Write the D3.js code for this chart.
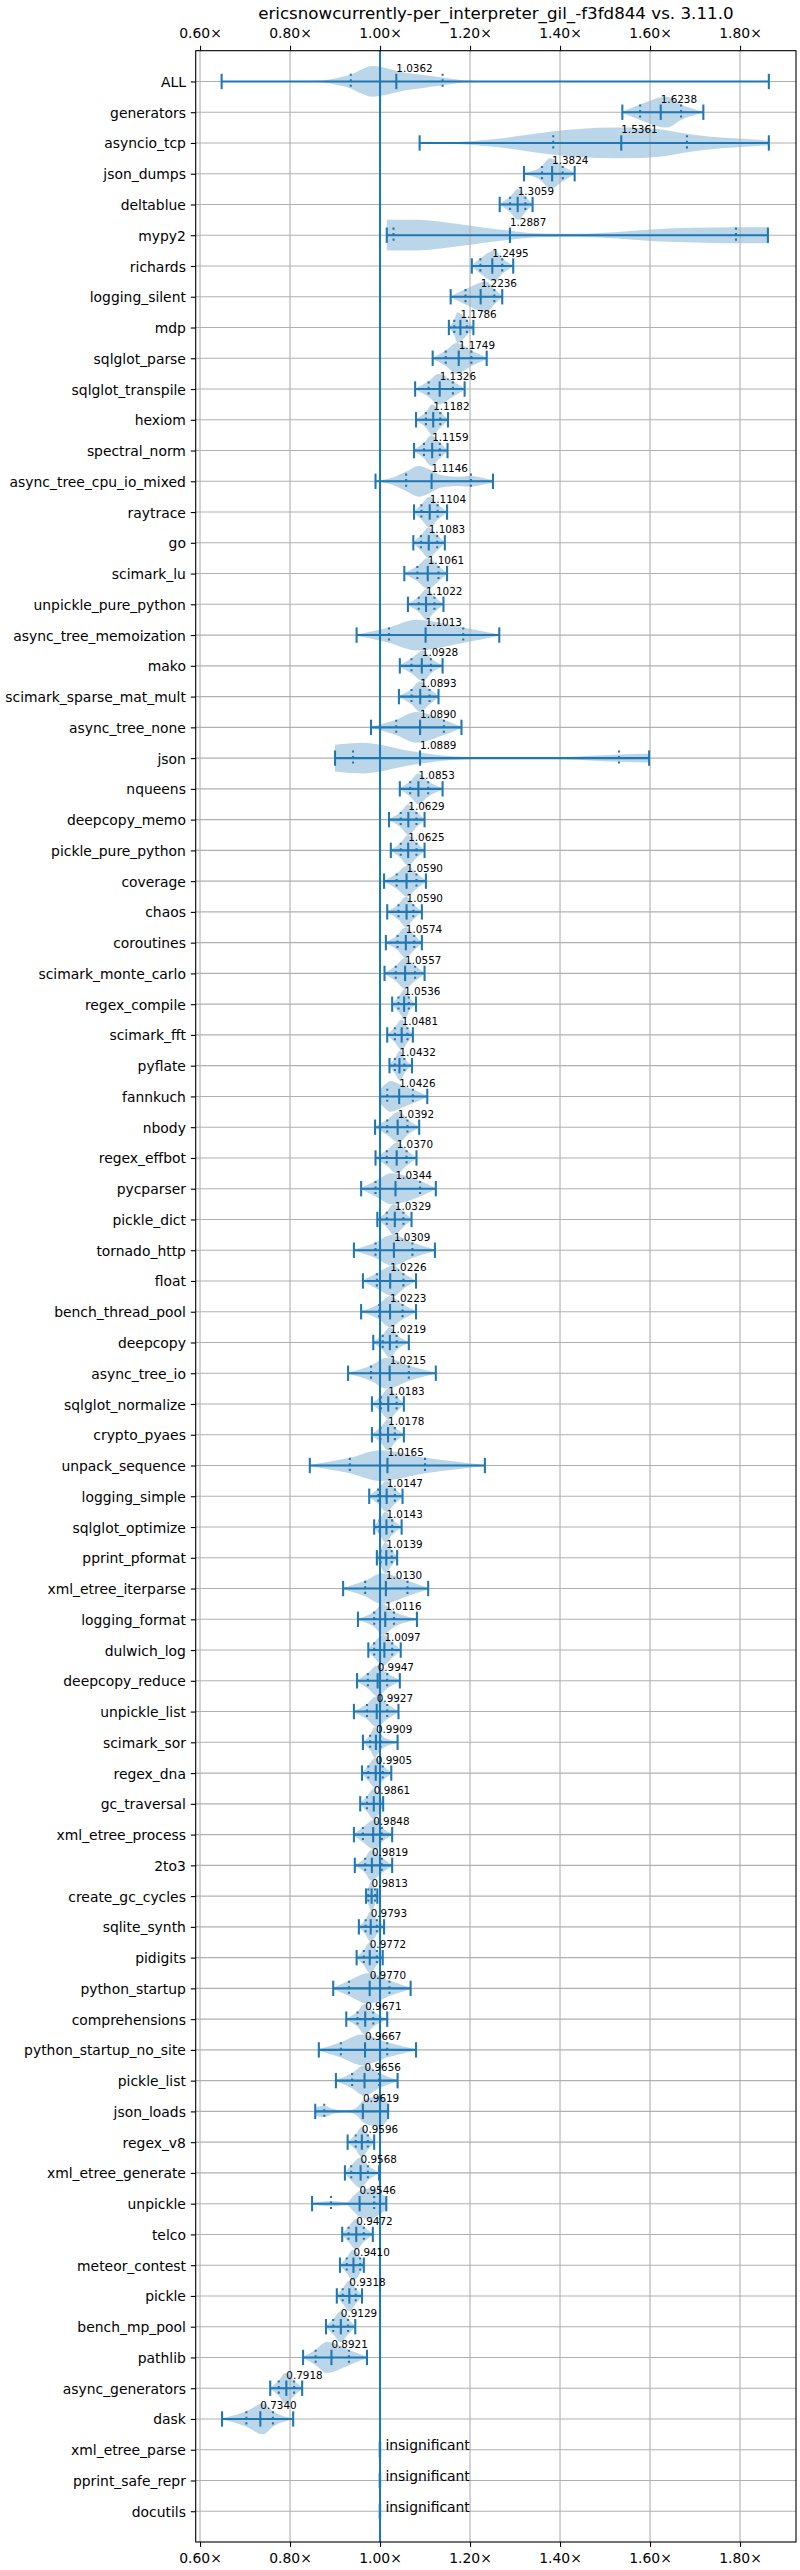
<!DOCTYPE html>
<html><head><meta charset="utf-8">
<script src="https://cdn.jsdelivr.net/npm/d3@7"></script>
<style>
body{margin:0;background:#fff}
text{font-family:"DejaVu Sans",sans-serif}
</style>
</head><body>
<svg id="chart" width="800" height="2570"></svg>
<script>
const title = "ericsnowcurrently-per_interpreter_gil_-f3fd844 vs. 3.11.0";
const benchmarks = ["ALL","generators","asyncio_tcp","json_dumps","deltablue","mypy2","richards","logging_silent","mdp","sqlglot_parse","sqlglot_transpile","hexiom","spectral_norm","async_tree_cpu_io_mixed","raytrace","go","scimark_lu","unpickle_pure_python","async_tree_memoization","mako","scimark_sparse_mat_mult","async_tree_none","json","nqueens","deepcopy_memo","pickle_pure_python","coverage","chaos","coroutines","scimark_monte_carlo","regex_compile","scimark_fft","pyflate","fannkuch","nbody","regex_effbot","pycparser","pickle_dict","tornado_http","float","bench_thread_pool","deepcopy","async_tree_io","sqlglot_normalize","crypto_pyaes","unpack_sequence","logging_simple","sqlglot_optimize","pprint_pformat","xml_etree_iterparse","logging_format","dulwich_log","deepcopy_reduce","unpickle_list","scimark_sor","regex_dna","gc_traversal","xml_etree_process","2to3","create_gc_cycles","sqlite_synth","pidigits","python_startup","comprehensions","python_startup_no_site","pickle_list","json_loads","regex_v8","xml_etree_generate","unpickle","telco","meteor_contest","pickle","bench_mp_pool","pathlib","async_generators","dask","xml_etree_parse","pprint_safe_repr","docutils"];

const medians = [1.0362,1.6238,1.5361,1.3824,1.3059,1.2887,1.2495,1.2236,1.1786,1.1749,
1.1326,1.1182,1.1159,1.1146,1.1104,1.1083,1.1061,1.1022,1.1013,1.0928,
1.0893,1.0890,1.0889,1.0853,1.0629,1.0625,1.0590,1.0590,1.0574,1.0557,
1.0536,1.0481,1.0432,1.0426,1.0392,1.0370,1.0344,1.0329,1.0309,1.0226,
1.0223,1.0219,1.0215,1.0183,1.0178,1.0165,1.0147,1.0143,1.0139,1.0130,
1.0116,1.0097,0.9947,0.9927,0.9909,0.9905,0.9861,0.9848,0.9819,0.9813,
0.9793,0.9772,0.9770,0.9671,0.9667,0.9656,0.9619,0.9596,0.9568,0.9546,
0.9472,0.9410,0.9318,0.9129,0.8921,0.7918,0.7340,null,null,null];

const mins = [0.648,1.5385,1.088,1.320,1.266,1.015,1.204,1.157,1.153,1.117,
1.078,1.080,1.0756,0.990,1.0756,1.074,1.054,1.062,0.948,1.044,
1.042,0.980,0.900,1.044,1.020,1.024,1.009,1.016,1.013,1.010,
1.027,1.016,1.021,1.000,0.989,0.990,0.958,0.994,0.942,0.962,
0.958,0.985,0.929,0.982,0.982,0.844,0.976,0.987,0.993,0.918,
0.951,0.974,0.949,0.942,0.962,0.960,0.956,0.942,0.944,0.969,
0.953,0.948,0.896,0.925,0.864,0.902,0.856,0.928,0.922,0.849,
0.916,0.911,0.904,0.880,0.829,0.756,0.649,null,null,null];

const q1s = [0.935,1.578,1.385,1.360,1.289,1.030,1.223,1.190,1.165,1.146,
1.108,1.102,1.0976,1.058,1.092,1.091,1.083,1.086,1.020,1.070,
1.070,1.036,0.940,1.067,1.046,1.046,1.037,1.041,1.039,1.035,
1.041,1.033,1.033,1.016,1.016,1.015,0.990,1.015,0.990,0.993,
0.998,1.006,0.980,1.002,1.001,0.933,0.996,0.999,1.001,0.967,
0.987,0.987,0.973,0.971,0.978,0.974,0.971,0.962,0.967,0.974,
0.968,0.964,0.931,0.950,0.913,0.938,0.876,0.946,0.936,0.891,
0.930,0.926,0.917,0.896,0.857,0.775,0.703,null,null,null];

const q3s = [1.139,1.669,1.682,1.406,1.323,1.791,1.2716,1.254,1.193,1.203,
1.162,1.134,1.133,1.202,1.128,1.127,1.130,1.121,1.185,1.113,
1.110,1.142,1.531,1.107,1.081,1.081,1.081,1.074,1.076,1.078,
1.064,1.061,1.054,1.073,1.061,1.059,1.089,1.052,1.072,1.052,
1.050,1.037,1.064,1.037,1.033,1.100,1.033,1.027,1.026,1.061,
1.031,1.027,1.016,1.016,1.001,1.006,1.000,1.004,1.004,0.989,
0.993,0.993,1.021,0.985,1.016,0.998,1.000,0.973,0.973,0.987,
0.964,0.956,0.946,0.929,0.931,0.809,0.762,null,null,null];

const maxs = [1.864,1.7185,1.864,1.4325,1.339,1.862,1.296,1.2716,1.2075,1.237,
1.188,1.151,1.150,1.251,1.149,1.144,1.149,1.141,1.265,1.139,
1.130,1.181,1.598,1.139,1.099,1.099,1.102,1.093,1.093,1.099,
1.080,1.073,1.071,1.105,1.087,1.081,1.124,1.070,1.122,1.080,
1.080,1.064,1.124,1.053,1.053,1.233,1.050,1.048,1.038,1.107,
1.082,1.046,1.044,1.041,1.039,1.025,1.007,1.027,1.027,0.994,
1.009,1.006,1.068,1.016,1.080,1.039,1.018,0.987,0.998,1.014,
0.984,0.964,0.960,0.945,0.971,0.827,0.807,null,null,null];

// location of the widest part of each violin
const peaks = [0.983,1.637,1.52,1.377,1.307,1.015,1.254,1.236,1.172,1.17,
1.13,1.116,1.114,1.087,1.11,1.108,1.106,1.104,1.08,1.096,
1.089,1.08,0.963,1.085,1.063,1.062,1.06,1.058,1.056,1.055,
1.056,1.048,1.045,1.022,1.042,1.038,1.025,1.03,1.027,1.03,
1.022,1.022,1.015,1.019,1.018,1.0,1.014,1.012,1.012,1.004,
1.006,1.008,0.994,0.992,0.988,0.99,0.986,0.99,0.98,0.981,
0.979,0.977,0.975,0.966,0.96,0.965,1.0,0.96,0.957,0.978,
0.947,0.94,0.932,0.913,0.881,0.79,0.74,null,null,null];

// irregular violin outlines: [value, relative half-width]
const customProfiles = {
  "ALL": [[0.648,0],[0.80,0.005],[0.86,0.04],[0.90,0.2],[0.935,0.45],[0.96,0.8],[0.983,1.0],[1.005,0.92],[1.034,0.72],[1.06,0.55],[1.096,0.42],[1.139,0.25],[1.187,0.07],[1.25,0.02],[1.4,0.005],[1.864,0]],
  "asyncio_tcp": [[1.088,0],[1.13,0.03],[1.17,0.07],[1.258,0.26],[1.32,0.5],[1.386,0.77],[1.45,0.93],[1.52,1.0],[1.58,0.97],[1.62,0.9],[1.682,0.6],[1.73,0.42],[1.786,0.3],[1.83,0.22],[1.864,0.15]],
  "mypy2": [[1.015,1.0],[1.083,1.0],[1.17,0.74],[1.24,0.46],[1.289,0.3],[1.346,0.13],[1.434,0.09],[1.52,0.2],[1.61,0.39],[1.70,0.48],[1.786,0.52],[1.862,0.52]],
  "json": [[0.900,0.87],[0.963,1.0],[1.0,0.87],[1.052,0.54],[1.096,0.33],[1.17,0.1],[1.28,0.03],[1.39,0.05],[1.467,0.15],[1.531,0.24],[1.598,0.28]],
  "async_tree_cpu_io_mixed": [[0.99,0.02],[1.03,0.26],[1.058,0.63],[1.087,1.0],[1.1125,0.74],[1.135,0.41],[1.17,0.3],[1.202,0.35],[1.232,0.2],[1.251,0.08]],
  "fannkuch": [[1.0,0.45],[1.016,0.9],[1.022,1.0],[1.043,0.8],[1.073,0.45],[1.105,0.05]],
  "json_loads": [[0.856,0.26],[0.876,0.37],[0.896,0.15],[0.926,0.05],[0.948,0.26],[0.962,0.7],[0.981,0.91],[1.0,1.0],[1.018,0.48]],
  "unpickle": [[0.849,0.03],[0.891,0.17],[0.926,0.1],[0.941,0.5],[0.953,0.83],[0.978,1.0],[0.993,0.8],[1.014,0.4]]
};

const xTicks = [0.6,0.8,1.0,1.2,1.4,1.6,1.8];
const xDomain = [0.5904, 1.9244];
const baseline = 1.0;
const insignificantText = "insignificant";

// ---------- layout ----------
const plot = {left:195.7, right:796, top:50.7, bottom:2542};
const C0 = "#1f77b4";
const svg = d3.select("#chart");

const x = d3.scaleLinear().domain(xDomain).range([plot.left, plot.right]);
const y = d3.scaleLinear().domain([0, benchmarks.length + 1]).range([plot.top, plot.bottom]);
const rows = benchmarks.map((name, k) => ({
  name, pos: k + 1, median: medians[k], min: mins[k], q1: q1s[k], q3: q3s[k], max: maxs[k], peak: peaks[k]
}));

// title
svg.append("text").attr("x", (plot.left + plot.right) / 2).attr("y", 18.5)
  .attr("text-anchor", "middle").style("font-size", "16.7px").text(title);

// violin bodies
const area = d3.area()
  .x(d => x(d[0]))
  .y0(d => y(d.pos + 0.5 * d[1]))
  .y1(d => y(d.pos - 0.5 * d[1]))
  .curve(d3.curveMonotoneX);

function profileOf(r) {
  let pts;
  if (customProfiles[r.name]) pts = customProfiles[r.name].map(p => p.slice());
  else {
    pts = [[r.min, 0.04], [r.q1, 0.5], [r.peak, 1.0], [r.q3, 0.5], [r.max, 0.04]];
    pts.sort((a, b) => a[0] - b[0]);
    const out = [];
    pts.forEach(p => {
      const last = out[out.length - 1];
      if (last && Math.abs(last[0] - p[0]) < 1e-4) { last[1] = Math.max(last[1], p[1]); }
      else out.push(p);
    });
    pts = out;
  }
  pts.forEach(p => p.pos = r.pos);
  return pts;
}

const gV = svg.append("g");
rows.filter(r => r.median !== null).forEach(r => {
  gV.append("path").attr("d", area(profileOf(r)))
    .attr("fill", C0).attr("fill-opacity", 0.3);
});
// insignificant rows: degenerate body at the baseline
rows.filter(r => r.median === null).forEach(r => {
  gV.append("rect").attr("x", x(baseline - 0.0045)).attr("width", x(baseline + 0.003) - x(baseline - 0.0045))
    .attr("y", y(r.pos - 0.25)).attr("height", y(r.pos + 0.25) - y(r.pos - 0.25))
    .attr("fill", C0).attr("fill-opacity", 0.3);
});

// grid
const gG = svg.append("g").attr("stroke", "#b0b0b0").attr("stroke-width", 1.1);
xTicks.forEach(t => gG.append("line").attr("x1", x(t)).attr("x2", x(t)).attr("y1", plot.top).attr("y2", plot.bottom));
rows.forEach(r => gG.append("line").attr("x1", plot.left).attr("x2", plot.right).attr("y1", y(r.pos)).attr("y2", y(r.pos)));

// violin lines
const gL = svg.append("g").attr("stroke", C0).attr("stroke-width", 2.08);
rows.filter(r => r.median !== null).forEach(r => {
  gL.append("line").attr("x1", x(r.min)).attr("x2", x(r.max)).attr("y1", y(r.pos)).attr("y2", y(r.pos));
  [r.min, r.max, r.median].forEach(v => gL.append("line")
    .attr("x1", x(v)).attr("x2", x(v)).attr("y1", y(r.pos - 0.25)).attr("y2", y(r.pos + 0.25)));
  [r.q1, r.q3].forEach(v => gL.append("line")
    .attr("x1", x(v)).attr("x2", x(v)).attr("y1", y(r.pos - 0.25)).attr("y2", y(r.pos + 0.25))
    .attr("stroke-dasharray", "2.08,3.43"));
});

// baseline
svg.append("line").attr("x1", x(baseline)).attr("x2", x(baseline))
  .attr("y1", plot.top).attr("y2", plot.bottom).attr("stroke", C0).attr("stroke-width", 2.08);

// median labels
const gT = svg.append("g");
rows.forEach(r => {
  if (r.median !== null) {
    gT.append("text").attr("x", x(r.median)).attr("y", y(r.pos - 0.25) - 1.8)
      .style("font-size", "10.4px").text(r.median.toFixed(4));
  } else {
    gT.append("text").attr("x", x(baseline + 0.012)).attr("y", y(r.pos) + 0.7)
      .style("font-size", "13.9px").text(insignificantText);
  }
});

// frame
svg.append("rect").attr("x", plot.left).attr("y", plot.top)
  .attr("width", plot.right - plot.left).attr("height", plot.bottom - plot.top)
  .attr("fill", "none").attr("stroke", "#000").attr("stroke-width", 1.1);

// axes
const fmt = v => d3.format(".2f")(v) + "\u00d7";
const axB = svg.append("g").attr("transform", `translate(0,${plot.bottom})`)
  .call(d3.axisBottom(x).tickValues(xTicks).tickFormat(fmt).tickSize(4.9).tickPadding(4.9).tickSizeOuter(0));
const axT = svg.append("g").attr("transform", `translate(0,${plot.top})`)
  .call(d3.axisTop(x).tickValues(xTicks).tickFormat(fmt).tickSize(4.9).tickPadding(4.9).tickSizeOuter(0));
const axL = svg.append("g").attr("transform", `translate(${plot.left},0)`)
  .call(d3.axisLeft(y).tickValues(rows.map(r => r.pos)).tickFormat(p => benchmarks[p - 1]).tickSize(4.9).tickPadding(4.9).tickSizeOuter(0));
[axB, axT, axL].forEach(a => {
  a.select(".domain").remove();
  a.selectAll(".tick line").attr("stroke", "#000").attr("stroke-width", 1.1);
  a.selectAll(".tick text").attr("fill", "#000").style("font-size", "13.9px").style("font-family", '"DejaVu Sans",sans-serif');
});
axB.selectAll(".tick text").attr("dy", null).attr("y", 20.7);
axT.selectAll(".tick text").attr("dy", null).attr("y", -13);
axL.selectAll(".tick text").attr("dy", "0.36em");
</script>
</body></html>
